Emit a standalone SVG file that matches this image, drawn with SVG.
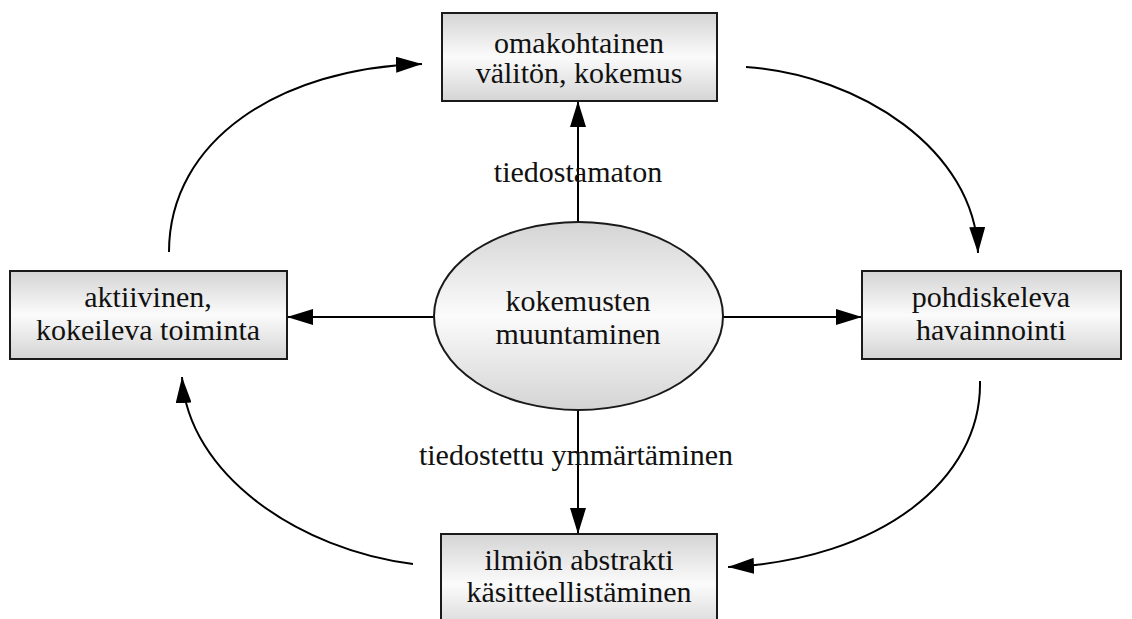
<svg xmlns="http://www.w3.org/2000/svg" width="1132" height="619" viewBox="0 0 1132 619">
<defs>
<linearGradient id="g" x1="0" y1="0" x2="0" y2="1">
<stop offset="0" stop-color="#d4d4d4"/>
<stop offset="0.5" stop-color="#fbfbfb"/>
<stop offset="1" stop-color="#d4d4d4"/>
</linearGradient>
<marker id="ah" markerUnits="userSpaceOnUse" markerWidth="26" markerHeight="16" refX="26" refY="8" orient="auto">
<path d="M0,0 L26,8 L0,16 z" fill="#000"/>
</marker>
</defs>
<style>
.box{fill:url(#g);stroke:#1a1a1a;stroke-width:2}
.t{font-family:"Liberation Serif","Times New Roman",serif;font-size:30px;fill:#111;text-anchor:middle}
.c{fill:none;stroke:#000;stroke-width:2;marker-end:url(#ah)}
</style>
<rect width="1132" height="619" fill="#fff"/>
<g id="connectors">
<path class="c" d="M578,222 L578,101"/>
<path class="c" d="M434,317 L287,317"/>
<path class="c" d="M723,317 L862,317"/>
<path class="c" d="M578,410 L578,534"/>
<path class="c" d="M169,252 C169,140 280,68 422,64"/>
<path class="c" d="M746,67 C860,75 975,150 978,253"/>
<path class="c" d="M980,381 C982,480 880,560 728,567"/>
<path class="c" d="M413,564 C300,550 188,475 182,377"/>
</g>
<g id="label-top"><text class="t" x="578" y="182">tiedostamaton</text></g>
<g id="label-bottom"><text class="t" x="576" y="465">tiedostettu ymmärtäminen</text></g>
<g id="n-top">
<rect class="box" x="442" y="13" width="275" height="88"/>
<text class="t" x="579" y="53">omakohtainen</text>
<text class="t" x="579" y="83">välitön, kokemus</text>
</g>
<g id="n-left">
<rect class="box" x="10" y="271" width="277" height="88"/>
<text class="t" x="148" y="307">aktiivinen,</text>
<text class="t" x="148" y="340">kokeileva toiminta</text>
</g>
<g id="n-right">
<rect class="box" x="862" y="271" width="259" height="88"/>
<text class="t" x="991" y="307">pohdiskeleva</text>
<text class="t" x="991" y="340">havainnointi</text>
</g>
<g id="n-center">
<ellipse class="box" cx="578.5" cy="316" rx="144.5" ry="94"/>
<text class="t" x="578" y="311">kokemusten</text>
<text class="t" x="578" y="344">muuntaminen</text>
</g>
<g id="n-bottom">
<rect class="box" x="441" y="534" width="276" height="100"/>
<text class="t" x="579" y="570">ilmiön abstrakti</text>
<text class="t" x="579" y="602">käsitteellistäminen</text>
</g>
</svg>
